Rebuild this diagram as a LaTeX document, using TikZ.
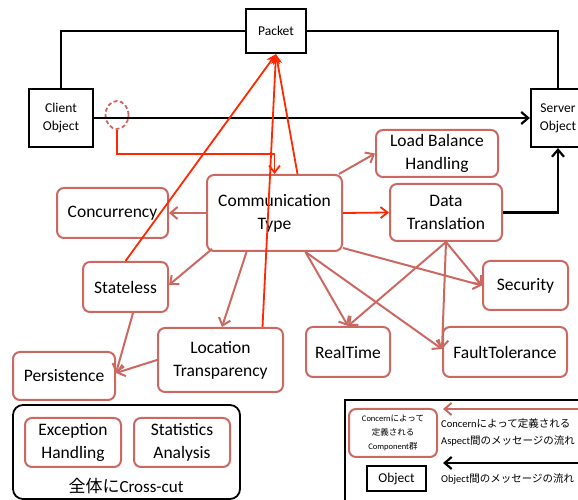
\documentclass[tikz,border=0pt]{standalone}
\usepackage{fontspec}
\setmainfont{Carlito}
\newfontfamily\cjk{Noto Sans CJK JP}
\usetikzlibrary{arrows.meta,shapes.geometric}
\definecolor{dred}{RGB}{204,104,98}
\definecolor{bred}{RGB}{255,40,0}
\begin{document}
\begin{tikzpicture}[x=1pt,y=1pt,
  cbox/.style={draw=dred,line width=2pt,rounded corners=7pt,align=center,inner sep=0pt,font=\fontsize{17.5}{23}\selectfont},
  obox/.style={draw=black,line width=2.2pt,align=center,inner sep=0pt,font=\fontsize{13.5}{18}\selectfont},
  darr/.style={draw=dred,line width=2pt,-{Straight Barb[length=7pt,width=12pt]}},
  rarr/.style={draw=bred,line width=1.8pt,-{Straight Barb[length=7pt,width=11pt]}},
  parr/.style={draw=bred,line width=1.8pt,-{Stealth[length=10pt,width=9pt]}},
  barr/.style={draw=black,line width=2.2pt,-{Straight Barb[length=7pt,width=12pt]}},
  bline/.style={draw=black,line width=2.2pt},
]
\useasboundingbox (0,0) rectangle (578,500);
\clip (0,0) rectangle (578,500);
% object boxes
\node[obox,minimum width=60pt,minimum height=44pt] (packet) at (276,469) {Packet};
\node[obox,minimum width=64pt,minimum height=58pt] (client) at (61,382) {Client\\Object};
\node[obox,minimum width=54pt,minimum height=58pt] (server) at (558,382) {Server\\Object};
% concern boxes
\node[cbox,minimum width=135pt,minimum height=76pt] (ct) at (274.5,287) {Communication\\Type};
\node[cbox,minimum width=111pt,minimum height=50pt] (conc) at (112.5,287) {Concurrency};
\node[cbox,minimum width=85pt,minimum height=50pt] (stl) at (125.5,213) {Stateless};
\node[cbox,minimum width=102pt,minimum height=48pt] (pers) at (64,124) {Persistence};
\node[cbox,minimum width=125pt,minimum height=64pt] (loc) at (220.5,140) {Location\\Transparency};
\node[cbox,minimum width=84pt,minimum height=50pt] (rt) at (348,148) {RealTime};
\node[cbox,minimum width=124pt,minimum height=50pt] (ft) at (505,148) {FaultTolerance};
\node[cbox,minimum width=85pt,minimum height=49pt] (sec) at (525.5,214.5) {Security};
\node[cbox,minimum width=112pt,minimum height=57pt] (dt) at (446,287.5) {Data\\Translation};
\node[cbox,minimum width=122pt,minimum height=47pt] (lb) at (437,346.5) {Load Balance\\Handling};
% cross-cut group
\node[draw=black,line width=1.8pt,rounded corners=10pt,minimum width=227pt,minimum height=94pt] (xc) at (126.5,48) {};
\node[cbox,minimum width=96pt,minimum height=49pt] (exc) at (73,57.5) {Exception\\Handling};
\node[cbox,minimum width=96pt,minimum height=49pt] (sta) at (182,57.5) {Statistics\\Analysis};
\node[font=\fontsize{17}{18}\selectfont,inner sep=0pt] (xct) at (126,14) {{\cjk 全体に}Cross-cut};
% legend
\node[draw=black,line width=2.2pt,minimum width=255pt,minimum height=110pt] (leg) at (472.5,45) {};
\node[cbox,minimum width=88pt,minimum height=48pt,font=\fontsize{8.5}{14}\selectfont] (lred) at (393,67) {Concern{\cjk によって}\\{\cjk 定義される}\\Component{\cjk 群}};
\node[obox,minimum width=59pt,minimum height=25pt] (lobj) at (396.5,21.5) {Object};
\coordinate (lr1) at (579,91);
\coordinate (lr2) at (443,91);
\coordinate (lk1) at (579,37);
\coordinate (lk2) at (443,37);
\draw[darr] (lr1) -- (lr2);
\draw[barr] (lk1) -- (lk2);
\node[anchor=west,align=left,font=\fontsize{10.5}{17}\selectfont,inner sep=0pt] (ltxt1) at (441,67.5) {Concern{\cjk によって定義される}\\Aspect{\cjk 間のメッセージの流れ}};
\node[anchor=west,font=\fontsize{10.5}{12}\selectfont,inner sep=0pt] (ltxt2) at (441,21) {Object{\cjk 間のメッセージの流れ}};
% dashed join point
\node[ellipse,draw=dred,dash pattern=on 4pt off 2.5pt,line width=1.8pt,minimum width=23pt,minimum height=28pt,inner sep=0pt] (circ) at (117,385) {};
% black connectors
\draw[bline] (client.north) |- (packet.west);
\draw[bline] (packet.east) -| (server.north);
\draw[barr] (client.east) -- (server.west);
\draw[barr] (dt.east) -| (server.south);
% bright red connectors
\draw[rarr] (circ.south) -- ++(0,-24) -| (ct.north);
\draw[parr] (stl.north) -- (packet.south);
\draw[parr] ([xshift=42pt]loc.north) -- (packet.south);
\draw[parr] ([xshift=23pt]ct.north) -- (packet.south);
\draw[rarr] (ct.east) -- (dt.west);
% dusty red connectors
\draw[darr] (ct.west) -- (conc.east);
\draw[darr] ([xshift=6pt,yshift=3pt]ct.south west) -- ([yshift=2pt]stl.east);
\draw[darr] ([xshift=-28pt]ct.south) -- ([xshift=1.5pt]loc.north);
\draw[darr] ([xshift=31pt]ct.south) -- (rt.north);
\draw[darr] ([xshift=31pt]ct.south) -- ([yshift=3pt]ft.west);
\draw[darr] ([yshift=4pt]ct.south east) -- (sec.west);
\draw[darr] ([xshift=-4pt]ct.north east) -- (lb.west);
\draw[darr] (dt.south) -- (rt.north);
\draw[darr] (dt.south) -- (sec.west);
\draw[darr] (dt.south) -- ([yshift=3pt]ft.west);
\draw[darr] ([xshift=7.5pt]stl.south) -- ([yshift=3pt]pers.east);
\draw[darr] (loc.west) -- ([yshift=3pt]pers.east);
\end{tikzpicture}
\end{document}
